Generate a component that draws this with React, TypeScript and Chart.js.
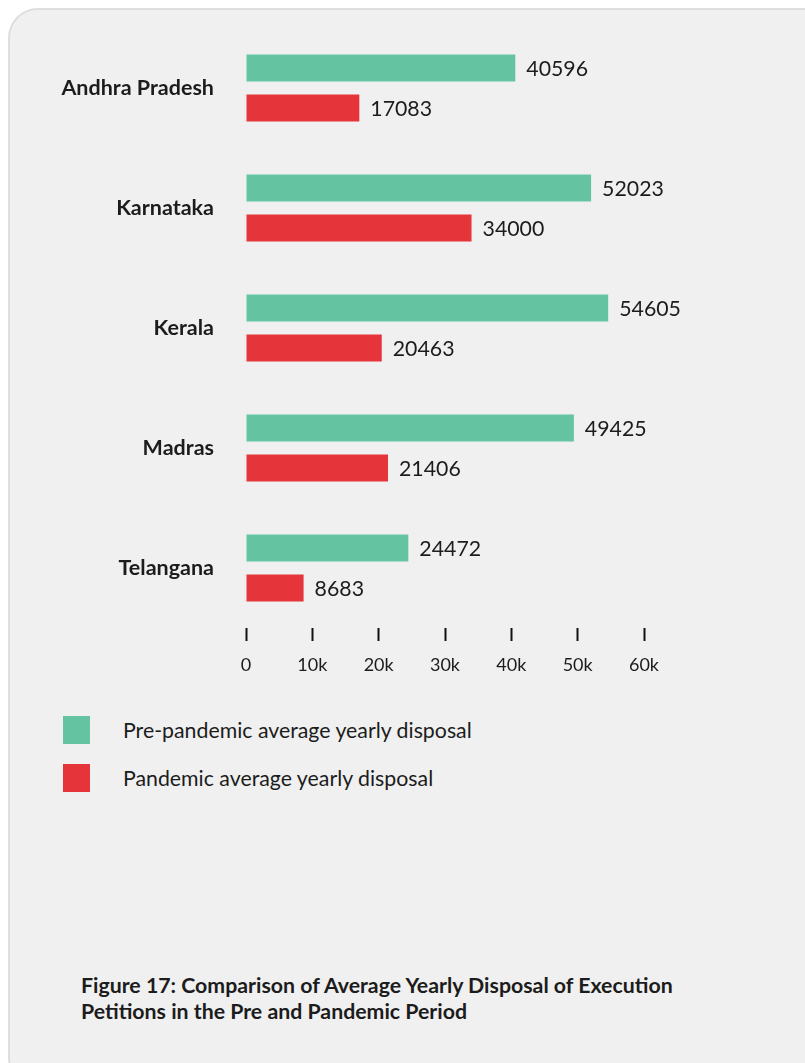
import React, { useEffect, useRef } from "react";
import { Chart, registerables } from "chart.js";

Chart.register(...registerables);

const categories = ["Andhra Pradesh", "Karnataka", "Kerala", "Madras", "Telangana"];
const prePandemic = [40596, 52023, 54605, 49425, 24472];
const pandemic = [17083, 34000, 20463, 21406, 8683];
const seriesLabels = ["Pre-pandemic average yearly disposal", "Pandemic average yearly disposal"];
const seriesColors = ["#64c4a1", "#e5353a"];
const tickValues = [0, 10000, 20000, 30000, 40000, 50000, 60000];
const tickLabels = ["0", "10k", "20k", "30k", "40k", "50k", "60k"];
const captionLines = [
  "Figure 17: Comparison of Average Yearly Disposal of Execution",
  "Petitions in the Pre and Pandemic Period",
];

const FONT = "Lato, 'Noto Sans', sans-serif";
const TEXT = "#1c1c1c";

const valueLabelPlugin = {
  id: "valueLabels",
  afterDatasetsDraw(chart: any) {
    const ctx = chart.ctx;
    ctx.save();
    ctx.font = `21.3px ${FONT}`;
    ctx.fillStyle = TEXT;
    ctx.textAlign = "left";
    ctx.textBaseline = "middle";
    chart.data.datasets.forEach((ds: any, di: number) => {
      const meta = chart.getDatasetMeta(di);
      meta.data.forEach((el: any, i: number) => {
        ctx.fillText(String(ds.data[i]), el.x + 11, el.y + 1);
      });
    });
    ctx.restore();
  },
};

export default function App() {
  const ref = useRef<HTMLCanvasElement | null>(null);

  useEffect(() => {
    if (!ref.current) return;
    const chart = new Chart(ref.current, {
      type: "bar",
      data: {
        labels: categories,
        datasets: [
          { label: seriesLabels[0], data: prePandemic, backgroundColor: seriesColors[0], categoryPercentage: 0.667, barPercentage: 0.675 },
          { label: seriesLabels[1], data: pandemic, backgroundColor: seriesColors[1], categoryPercentage: 0.667, barPercentage: 0.675 },
        ],
      },
      options: {
        indexAxis: "y",
        responsive: false,
        animation: false,
        events: [],
        layout: { padding: { left: 0, top: 28, right: 161, bottom: 0 } },
        plugins: { legend: { display: false }, tooltip: { enabled: false } },
        scales: {
          x: {
            min: 0,
            max: 60000,
            afterBuildTicks(scale: any) {
              scale.ticks = tickValues.map((v) => ({ value: v }));
            },
            afterFit(scale: any) {
              scale.height = 62;
              scale.paddingLeft = 0;
              scale.paddingRight = 0;
            },
            border: { display: false },
            grid: { drawOnChartArea: false, drawTicks: true, tickLength: 13, tickWidth: 2, tickColor: "#111" },
            ticks: {
              padding: 13,
              color: TEXT,
              font: { family: FONT, size: 18 },
              callback: (v: any) => tickLabels[tickValues.indexOf(Number(v))] ?? "",
            },
          },
          y: {
            afterFit(scale: any) {
              scale.width = 246;
              scale.paddingTop = 0;
              scale.paddingBottom = 0;
            },
            border: { display: false },
            grid: { display: false, drawTicks: false },
            ticks: { padding: 32, color: TEXT, font: { family: FONT, size: 21.5, weight: "bold" } },
          },
        },
      },
      plugins: [valueLabelPlugin],
    } as any);
    return () => chart.destroy();
  }, []);

  return (
    <div style={{ position: "fixed", left: 0, top: 0, width: 805, height: 1063, overflow: "hidden", background: "#fff", fontFamily: FONT }}>
      <div
        style={{
          position: "absolute",
          left: 8,
          top: 8,
          width: 830,
          height: 1080,
          boxSizing: "border-box",
          border: "2px solid #dedede",
          borderRadius: 30,
          background: "#f0f0f0",
        }}
      />
      <canvas ref={ref} width={805} height={690} style={{ position: "absolute", left: 0, top: 0, width: 805, height: 690 }} />
      {seriesLabels.map((lab, i) => (
        <div key={lab} style={{ position: "absolute", left: 63, top: 716 + i * 48, height: 28, display: "flex", alignItems: "center" }}>
          <div style={{ width: 27, height: 28, background: seriesColors[i] }} />
          <div style={{ marginLeft: 33, fontSize: 21.3, color: TEXT, whiteSpace: "nowrap" }}>{lab}</div>
        </div>
      ))}
      <div style={{ position: "absolute", left: 81, top: 972, fontSize: 21.3, fontWeight: "bold", lineHeight: "26px", color: TEXT, whiteSpace: "nowrap" }}>
        {captionLines.map((l) => (
          <div key={l}>{l}</div>
        ))}
      </div>
    </div>
  );
}
